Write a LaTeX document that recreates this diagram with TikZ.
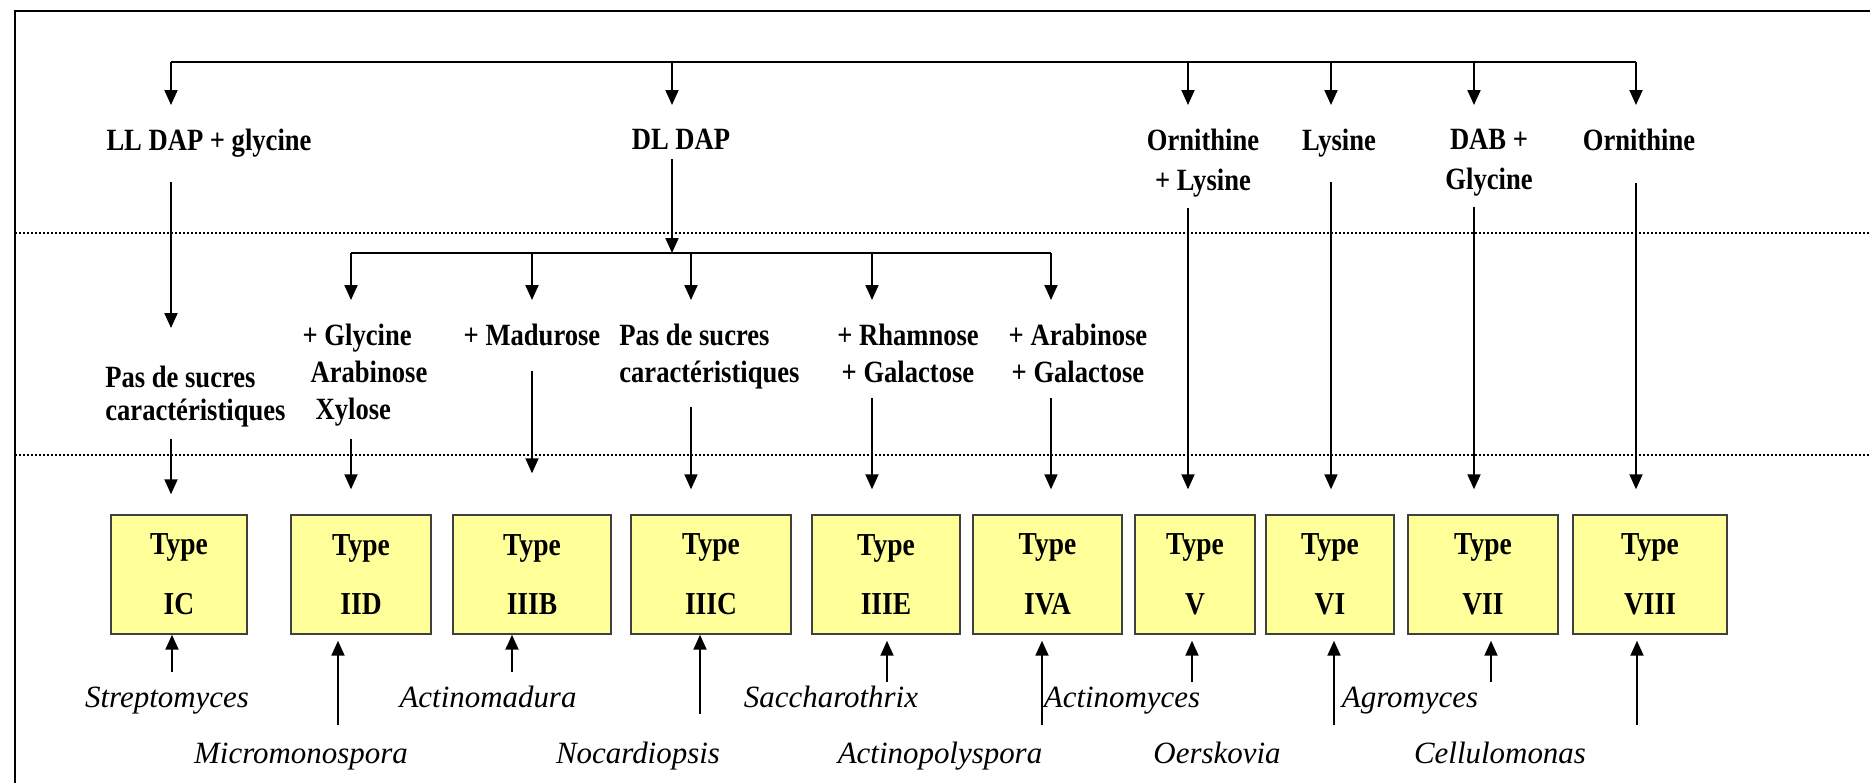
\documentclass[tikz,border=0pt]{standalone}
\usepackage{fontspec}
\setmainfont[FakeStretch=0.86]{Liberation Serif}
\newfontfamily\genusfont{Liberation Serif}
\usetikzlibrary{arrows.meta}
\definecolor{boxfill}{RGB}{255,255,153}
\definecolor{boxline}{RGB}{64,64,64}

\begin{document}
\begin{tikzpicture}[x=0.02cm,y=-0.02cm,
        arr/.style={-{Triangle[length=0.3cm,width=0.26cm]},line width=0.04cm},
        bus/.style={line width=0.04cm},
        lbl/.style={font=\bfseries\fontsize{17.6}{21}\selectfont,align=center,inner xsep=0pt,inner ysep=0.48cm,anchor=north},
        typebox/.style={draw=boxline,fill=boxfill,line width=0.03cm,minimum height=2.38cm,inner sep=0pt,align=center,font=\bfseries\fontsize{18.2}{34}\selectfont},
        genus/.style={font=\genusfont\itshape\fontsize{17.6}{21}\selectfont,inner sep=0pt,anchor=base},
        sep/.style={line width=0.035cm,dash pattern=on 0.05cm off 0.03cm}]
        \useasboundingbox (0,0) rectangle (1870,782);
        % frame and separators
        \draw[line width=0.045cm] (15,800) -- (15,11) -- (1880,11);
        \draw[sep] (15,233) -- (1870,233);
        \draw[sep] (15,455) -- (1870,455);

        % first level
        \coordinate (ba) at (171,62);
        \coordinate (bb) at (672,62);
        \coordinate (bc) at (1188,62);
        \coordinate (bd) at (1331,62);
        \coordinate (be) at (1474,62);
        \coordinate (bf) at (1636,62);
        \node[lbl] (lldap) at (209,105) {LL DAP + glycine};
        \node[lbl] (dldap) at (681,105) {DL DAP};
        \node[lbl] (ornlys) at (1203,105) {Ornithine\\[0.06cm]+ Lysine};
        \node[lbl] (lys) at (1339,105) {Lysine};
        \node[lbl] (dab) at (1489,105) {DAB +\\[0.06cm]Glycine};
        \node[lbl] (orn) at (1639,105) {Ornithine};
        \draw[bus] (ba) -- (bf);
        \draw[arr] (ba) -- (ba |- lldap.north);
        \draw[arr] (bb) -- (bb |- dldap.north);
        \draw[arr] (bc) -- (bc |- ornlys.north);
        \draw[arr] (bd) -- (bd |- lys.north);
        \draw[arr] (be) -- (be |- dab.north);
        \draw[arr] (bf) -- (bf |- orn.north);

        % second level (sugars)
        \coordinate (ca) at (351,253);
        \coordinate (cb) at (532,253);
        \coordinate (cc) at (691,253);
        \coordinate (cd) at (872,253);
        \coordinate (ce) at (1051,253);
        \node[lbl,align=left] (glyc) at (365,300) {+ Glycine\\\hspace*{0.16cm}Arabinose\\\hspace*{0.26cm}Xylose};
        \node[lbl] (madu) at (532,300) {+ Madurose};
        \node[lbl,align=left,anchor=north west] (pas2) at (619,300) {Pas de sucres\\caractéristiques};
        \node[lbl] (rham) at (908,300) {+ Rhamnose\\+ Galactose};
        \node[lbl] (arab) at (1078,300) {+ Arabinose\\+ Galactose};
        \node[lbl,align=left,anchor=north west] (pas1) at (105,342) {Pas de sucres\\[-0.08cm]caractéristiques};
        \draw[arr,shorten <=-0.3cm] (dldap.south -| bb) -- (bb |- ca);
        \draw[bus] (ca) -- (ce);
        \draw[arr] (ca) -- (ca |- glyc.north);
        \draw[arr] (cb) -- (cb |- madu.north);
        \draw[arr] (cc) -- (cc |- pas2.north);
        \draw[arr] (cd) -- (cd |- rham.north);
        \draw[arr] (ce) -- (ce |- arab.north);
        \draw[arr,shorten >=0.28cm] (lldap.south -| ba) -- (ba |- pas1.north);

        % wall types
        \node[typebox,minimum width=2.72cm] (ic) at (179,574.5) {Type\\IC};
        \node[typebox,minimum width=2.8cm] (iid) at (361,574.5) {Type\\IID};
        \node[typebox,minimum width=3.16cm] (iiib) at (532,574.5) {Type\\IIIB};
        \node[typebox,minimum width=3.2cm] (iiic) at (711,574.5) {Type\\IIIC};
        \node[typebox,minimum width=2.96cm] (iiie) at (886,574.5) {Type\\IIIE};
        \node[typebox,minimum width=2.98cm] (iva) at (1047.5,574.5) {Type\\IVA};
        \node[typebox,minimum width=2.4cm] (tv) at (1195,574.5) {Type\\V};
        \node[typebox,minimum width=2.56cm] (tvi) at (1330,574.5) {Type\\VI};
        \node[typebox,minimum width=3cm] (tvii) at (1483,574.5) {Type\\VII};
        \node[typebox,minimum width=3.08cm] (tviii) at (1650,574.5) {Type\\VIII};
        \draw[arr,shorten <=-0.26cm,shorten >=0.4cm] (pas1.south -| ba) -- (ba |- ic.north);
        \draw[arr,shorten <=-0.24cm,shorten >=0.5cm] (glyc.south -| ca) -- (ca |- iid.north);
        \draw[arr,shorten >=0.82cm] (madu.south -| cb) -- (cb |- iiib.north);
        \draw[arr,shorten <=-0.14cm,shorten >=0.5cm] (pas2.south -| cc) -- (cc |- iiic.north);
        \draw[arr,shorten <=-0.18cm,shorten >=0.5cm] (rham.south -| cd) -- (cd |- iiie.north);
        \draw[arr,shorten <=-0.18cm,shorten >=0.5cm] (arab.south -| ce) -- (ce |- iva.north);
        \draw[arr,shorten <=-0.28cm,shorten >=0.5cm] (ornlys.south -| bc) -- (bc |- tv.north);
        \draw[arr,shorten >=0.5cm] (lys.south -| bd) -- (bd |- tvi.north);
        \draw[arr,shorten <=-0.28cm,shorten >=0.5cm] (dab.south -| be) -- (be |- tvii.north);
        \draw[arr,shorten <=0.16cm,shorten >=0.5cm] (orn.south -| bf) -- (bf |- tviii.north);

        % genera
        \node[genus] (strep) at (167,707) {Streptomyces};
        \node[genus] (micro) at (301,763) {Micromonospora};
        \node[genus] (amad) at (488,707) {Actinomadura};
        \node[genus] (nocar) at (638,763) {Nocardiopsis};
        \node[genus] (sacch) at (831,707) {Saccharothrix};
        \node[genus] (apoly) at (940,763) {Actinopolyspora};
        \node[genus] (amyc) at (1122,707) {Actinomyces};
        \node[genus] (oersk) at (1217,763) {Oerskovia};
        \node[genus] (agro) at (1410,707) {Agromyces};
        \node[genus] (cellu) at (1500,763) {Cellulomonas};
        \coordinate (gic) at (172,672);
        \coordinate (giid) at (338,725);
        \coordinate (giiib) at (512,672);
        \coordinate (giiic) at (700,714);
        \coordinate (giiie) at (887,682);
        \coordinate (giva) at (1042,725);
        \coordinate (gv) at (1192,682);
        \coordinate (gvi) at (1334,725);
        \coordinate (gvii) at (1491,682);
        \coordinate (gviii) at (1637,725);
        \draw[arr] (gic) -- (gic |- ic.south);
        \draw[arr,shorten >=0.12cm] (giid) -- (giid |- iid.south);
        \draw[arr] (giiib) -- (giiib |- iiib.south);
        \draw[arr] (giiic) -- (giiic |- iiic.south);
        \draw[arr,shorten >=0.12cm] (giiie) -- (giiie |- iiie.south);
        \draw[arr,shorten >=0.12cm] (giva) -- (giva |- iva.south);
        \draw[arr,shorten >=0.12cm] (gv) -- (gv |- tv.south);
        \draw[arr,shorten >=0.12cm] (gvi) -- (gvi |- tvi.south);
        \draw[arr,shorten >=0.12cm] (gvii) -- (gvii |- tvii.south);
        \draw[arr,shorten >=0.12cm] (gviii) -- (gviii |- tviii.south);
    \end{tikzpicture}
\end{document}
